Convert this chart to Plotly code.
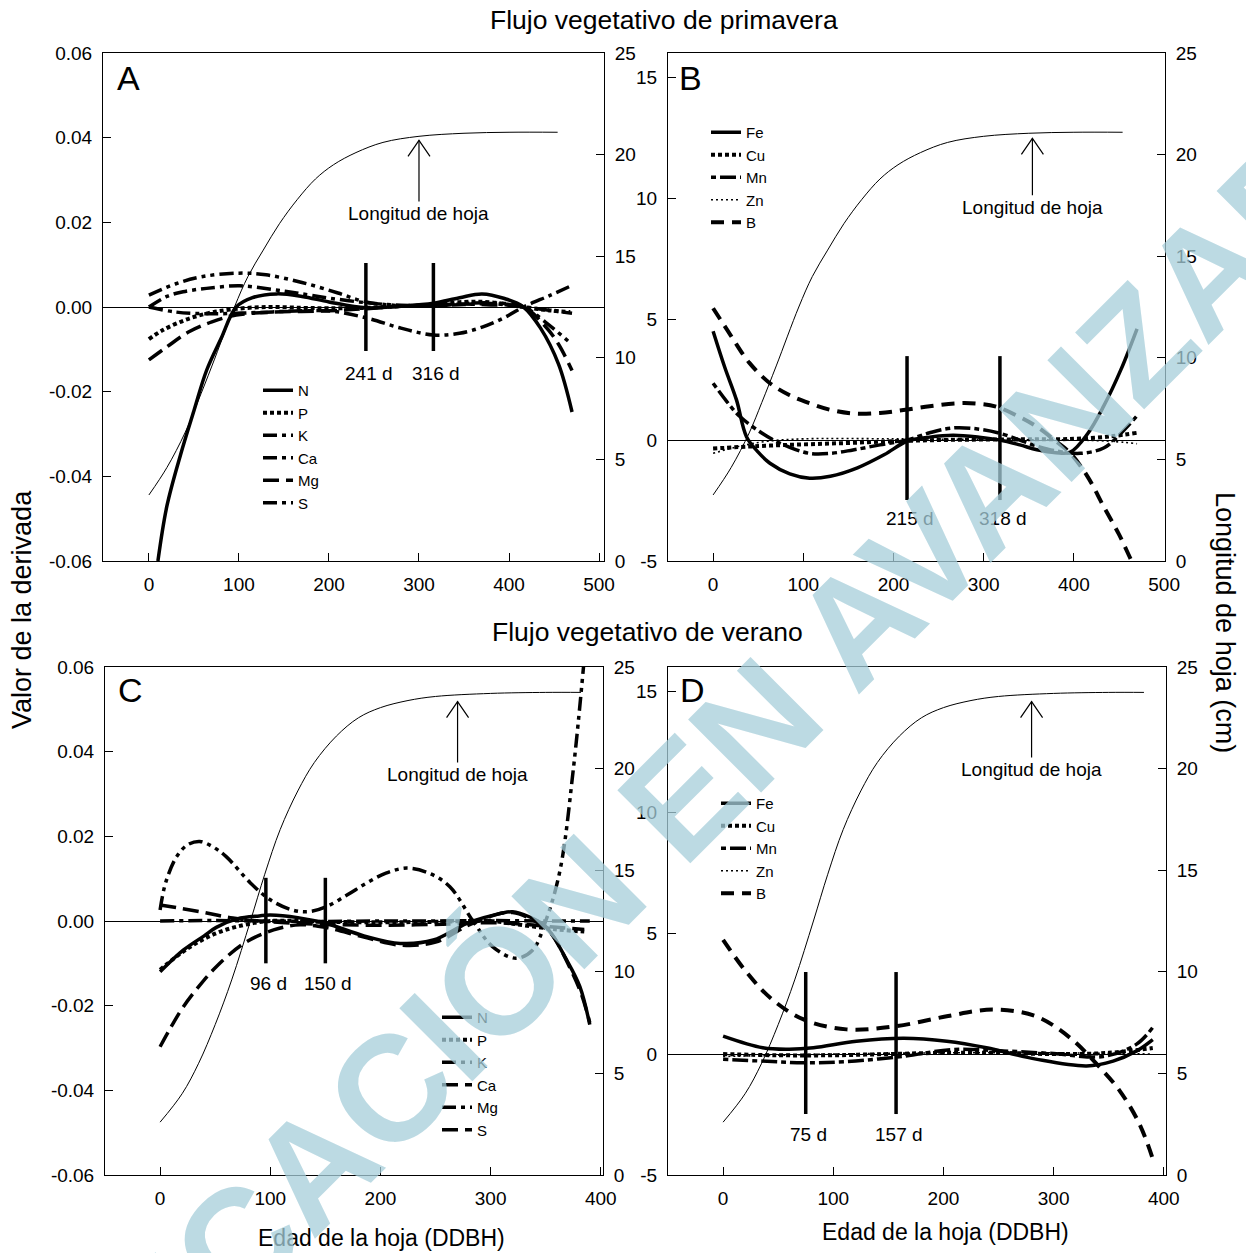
import plotly.graph_objects as go

FONT = "Liberation Sans, Arial, Helvetica, sans-serif"
W, H = 1246, 1253

# ---------------- data ----------------
# leaf length (cm)
spring_leaf_x = [0, 20, 40, 54, 70, 95, 110, 127, 145, 165, 185, 205, 230, 260, 300, 350, 400, 454]
spring_leaf_cm = [3.25, 4.6, 6.3, 7.8, 9.6, 12.5, 14.0, 15.3, 16.6, 17.8, 18.8, 19.5, 20.1, 20.6, 20.9, 21.05, 21.1, 21.1]
summer_leaf_x = [0, 20, 35, 50, 65, 82, 95, 109, 125, 140, 160, 180, 200, 225, 250, 300, 350, 382]
summer_leaf_cm = [2.6, 4.0, 5.5, 7.4, 9.6, 12.5, 14.8, 17.0, 18.9, 20.3, 21.6, 22.5, 23.0, 23.35, 23.55, 23.7, 23.75, 23.75]

# Panel A: spring flush, macronutrients (derivative values)
A_N_x = [10, 20, 35, 50, 64, 80, 97, 115, 142, 170, 200, 241, 280, 316, 345, 370, 395, 416, 435, 455, 470]
A_N_y = [-0.060, -0.047, -0.035, -0.0245, -0.015, -0.0075, 0.0, 0.0022, 0.0031, 0.0025, 0.0012, -0.0002, 0.0002, 0.0009, 0.0022, 0.0031, 0.0020, 0.0, -0.005, -0.0135, -0.0248]
A_P_x = [0, 15, 40, 65, 90, 130, 170, 200, 241, 280, 316, 350, 380, 416, 445, 468]
A_P_y = [-0.0076, -0.0055, -0.0031, -0.0015, -0.0006, 0.0, -0.0002, -0.0003, -0.0002, 0.0002, 0.0005, 0.0012, 0.0011, 0.0, -0.0008, -0.0012]
A_K_x = [0, 30, 70, 120, 170, 204, 242, 280, 316, 345, 371, 395, 416, 445, 471]
A_K_y = [0.0, -0.0012, -0.0016, -0.0013, -0.0009, -0.0010, -0.0026, -0.0050, -0.0066, -0.0062, -0.0047, -0.0025, 0.0, 0.0027, 0.0052]
A_Ca_x = [0, 30, 60, 100, 130, 170, 210, 241, 280, 316, 350, 380, 416, 440, 468]
A_Ca_y = [0.0028, 0.0055, 0.0072, 0.0080, 0.0076, 0.0058, 0.0033, 0.0012, 0.0003, 0.0002, 0.0008, 0.0010, 0.0, -0.0035, -0.0085]
A_Mg_x = [0, 20, 45, 70, 97, 140, 200, 241, 280, 316, 350, 380, 416, 440, 455, 470]
A_Mg_y = [-0.0125, -0.0094, -0.0058, -0.0035, -0.0019, -0.0012, -0.0009, -0.0004, 0.0002, 0.0005, 0.0007, 0.0005, 0.0, -0.0045, -0.0088, -0.0150]
A_S_x = [0, 20, 38, 64, 101, 138, 164, 200, 242, 280, 316, 350, 380, 416, 445, 470]
A_S_y = [0.0, 0.0025, 0.0036, 0.0044, 0.0050, 0.0041, 0.0033, 0.0021, 0.0010, 0.0004, 0.0003, 0.0006, 0.0008, 0.0, -0.0008, -0.0015]

# Panel B: spring flush, micronutrients
B_Fe_x = [0, 13, 26, 37, 50, 63, 85, 107, 130, 160, 190, 215, 240, 266, 295, 318, 340, 359, 380, 396, 415, 433, 452, 470]
B_Fe_y = [4.5, 3.0, 1.65, 0.14, -0.5, -0.96, -1.4, -1.58, -1.5, -1.15, -0.6, -0.05, 0.12, 0.2, 0.12, 0.0, -0.2, -0.4, -0.52, -0.5, 0.25, 1.4, 2.9, 4.6]
B_Cu_x = [0, 50, 100, 150, 200, 250, 300, 350, 400, 440, 470]
B_Cu_y = [-0.35, -0.25, -0.18, -0.12, -0.05, 0.0, 0.02, 0.03, 0.05, 0.15, 0.3]
B_Mn_x = [0, 15, 30, 63, 85, 107, 130, 155, 185, 215, 240, 266, 295, 318, 340, 359, 380, 407, 433, 450, 470]
B_Mn_y = [2.35, 1.6, 0.96, 0.08, -0.3, -0.55, -0.55, -0.41, -0.2, 0.0, 0.3, 0.5, 0.45, 0.28, 0.0, -0.25, -0.45, -0.55, -0.33, 0.2, 1.0]
B_Zn_x = [0, 30, 60, 100, 200, 300, 400, 440, 470]
B_Zn_y = [-0.55, -0.25, -0.05, 0.05, 0.05, 0.02, 0.0, -0.05, -0.15]
B_B_x = [0, 20, 40, 63, 85, 107, 130, 155, 185, 211, 240, 270, 295, 314, 340, 359, 380, 396, 415, 433, 450, 464, 475]
B_B_y = [5.45, 4.3, 3.2, 2.35, 1.85, 1.52, 1.25, 1.1, 1.12, 1.24, 1.4, 1.52, 1.5, 1.38, 0.95, 0.55, -0.05, -0.54, -1.5, -2.75, -3.9, -5.0, -5.8]

# Panel C: summer flush, macronutrients
C_N_x = [0, 21, 40, 51, 70, 90, 100, 125, 151, 185, 218, 248, 278, 300, 320, 335, 350, 369, 381, 390]
C_N_y = [-0.012, -0.0069, -0.0035, -0.0015, 0.0005, 0.0012, 0.0014, 0.0008, -0.0006, -0.0035, -0.0053, -0.0045, -0.0006, 0.0012, 0.0022, 0.001, -0.0013, -0.0092, -0.0155, -0.0245]
C_P_x = [0, 25, 50, 75, 100, 150, 200, 250, 300, 330, 360, 385]
C_P_y = [-0.0115, -0.0065, -0.003, -0.001, 0.0, -0.0002, -0.0003, -0.0002, 0.0, -0.001, -0.002, -0.0025]
C_K_x = [0, 5, 15, 25, 36, 48, 60, 82, 100, 120, 135, 151, 170, 187, 205, 224, 245, 263, 284, 302, 323, 338, 350, 363, 375, 385]
C_K_y = [0.0026, 0.009, 0.0152, 0.0180, 0.0188, 0.0175, 0.0152, 0.009, 0.005, 0.0026, 0.0022, 0.0034, 0.0062, 0.0089, 0.0113, 0.0125, 0.0112, 0.0081, 0.0, -0.0061, -0.0088, -0.0069, 0.0, 0.012, 0.0357, 0.062]
C_Ca_x = [0, 10, 21, 35, 51, 76, 103, 127, 150, 185, 218, 250, 280, 305, 320, 340, 355, 370, 382, 390]
C_Ca_y = [-0.0297, -0.025, -0.0203, -0.0155, -0.0108, -0.0053, -0.0021, -0.0009, -0.0015, -0.0038, -0.0057, -0.005, -0.001, 0.0015, 0.0020, 0.0, -0.003, -0.010, -0.017, -0.024]
C_Mg_x = [0, 50, 100, 150, 200, 250, 300, 350, 390]
C_Mg_y = [0.0, 0.0001, 0.0, -0.0001, 0.0, 0.0, 0.0001, 0.0, 0.0]
C_S_x = [0, 36, 66, 100, 150, 200, 250, 300, 330, 360, 385]
C_S_y = [0.0038, 0.0022, 0.0007, -0.0002, -0.0008, -0.0010, -0.0008, -0.0004, -0.0008, -0.0015, -0.0020]

# Panel D: summer flush, micronutrients
D_Fe_x = [0, 36, 60, 82, 121, 164, 203, 239, 284, 330, 354, 375, 390]
D_Fe_y = [0.74, 0.26, 0.2, 0.26, 0.53, 0.65, 0.53, 0.26, -0.21, -0.49, -0.29, 0.12, 0.6]
D_Cu_x = [0, 50, 100, 150, 200, 250, 300, 350, 390]
D_Cu_y = [0.0, -0.05, -0.05, 0.0, 0.05, 0.05, 0.0, 0.05, 0.25]
D_Mn_x = [0, 40, 73, 112, 164, 209, 254, 300, 345, 375, 390]
D_Mn_y = [-0.22, -0.3, -0.36, -0.31, -0.09, 0.19, 0.13, 0.02, -0.1, 0.4, 1.1]
D_Zn_x = [0, 50, 100, 200, 300, 390]
D_Zn_y = [-0.1, -0.05, 0.0, 0.05, 0.05, 0.0]
D_B_x = [0, 21, 43, 73, 112, 157, 203, 245, 284, 315, 339, 360, 378, 390]
D_B_y = [4.72, 3.4, 2.32, 1.43, 1.02, 1.15, 1.56, 1.84, 1.56, 0.67, -0.41, -1.52, -2.9, -4.33]

# break points (days)
A_breaks = [241, 316]
B_breaks = [215, 318]
C_breaks = [96, 150]
D_breaks = [75, 157]

# tick values / labels
deriv_ticks = [-0.06, -0.04, -0.02, 0.0, 0.02, 0.04, 0.06]
deriv_ticktext = ["-0.06", "-0.04", "-0.02", "0.00", "0.02", "0.04", "0.06"]
micro_ticks = [-5, 0, 5, 10, 15]
micro_ticktext = ["-5", "0", "5", "10", "15"]
leaf_ticks = [0, 5, 10, 15, 20, 25]
spring_xticks = [0, 100, 200, 300, 400, 500]
summer_xticks = [0, 100, 200, 300, 400]

# ---------------- styles ----------------
SOLID = dict(dash="solid", width=3.5)
SQDOT = dict(dash="4px,3px", width=4)
LDASH = dict(dash="16px,7px", width=3.5)
DDOT = dict(dash="14px,5px,4px,5px,4px,5px", width=3.5)
DDOT1 = dict(dash="14px,5px,4px,5px", width=3.5)
THINDOT = dict(dash="2px,3px", width=1.6)
BDASH = dict(dash="13px,8px", width=4)
MNDASH = dict(dash="5px,4px,16px,4px", width=3.5)


def px(x):
    return x / W


def py(y):
    return 1 - y / H


fig = go.Figure()


def add_series(x, y, name, style, xa, ya, legend):
    fig.add_trace(go.Scatter(
        x=x, y=y, name=name, mode="lines",
        line=dict(color="black", shape="spline", smoothing=1.0, **style),
        xaxis=xa, yaxis=ya, legend=legend, legendgroup=legend + name,
        hoverinfo="skip"))


def add_leaf(x, y, xa, ya):
    fig.add_trace(go.Scatter(
        x=x, y=y, mode="lines", showlegend=False,
        line=dict(color="black", width=1, shape="spline", smoothing=1.0),
        xaxis=xa, yaxis=ya, hoverinfo="skip"))


# Panel A
add_leaf(spring_leaf_x, spring_leaf_cm, "x", "y2")
add_series(A_N_x, A_N_y, "N", SOLID, "x", "y", "legend")
add_series(A_P_x, A_P_y, "P", SQDOT, "x", "y", "legend")
add_series(A_K_x, A_K_y, "K", DDOT1, "x", "y", "legend")
add_series(A_Ca_x, A_Ca_y, "Ca", DDOT, "x", "y", "legend")
add_series(A_Mg_x, A_Mg_y, "Mg", LDASH, "x", "y", "legend")
add_series(A_S_x, A_S_y, "S", DDOT1, "x", "y", "legend")

# Panel B
add_leaf(spring_leaf_x, spring_leaf_cm, "x2", "y4")
add_series(B_Fe_x, B_Fe_y, "Fe", SOLID, "x2", "y3", "legend2")
add_series(B_Cu_x, B_Cu_y, "Cu", SQDOT, "x2", "y3", "legend2")
add_series(B_Mn_x, B_Mn_y, "Mn", MNDASH, "x2", "y3", "legend2")
add_series(B_Zn_x, B_Zn_y, "Zn", THINDOT, "x2", "y3", "legend2")
add_series(B_B_x, B_B_y, "B", BDASH, "x2", "y3", "legend2")

# Panel C
add_leaf(summer_leaf_x, summer_leaf_cm, "x3", "y6")
add_series(C_N_x, C_N_y, "N", SOLID, "x3", "y5", "legend3")
add_series(C_P_x, C_P_y, "P", SQDOT, "x3", "y5", "legend3")
add_series(C_K_x, C_K_y, "K", DDOT, "x3", "y5", "legend3")
add_series(C_Ca_x, C_Ca_y, "Ca", LDASH, "x3", "y5", "legend3")
add_series(C_Mg_x, C_Mg_y, "Mg", DDOT1, "x3", "y5", "legend3")
add_series(C_S_x, C_S_y, "S", LDASH, "x3", "y5", "legend3")

# Panel D
add_leaf(summer_leaf_x, summer_leaf_cm, "x4", "y8")
add_series(D_Fe_x, D_Fe_y, "Fe", SOLID, "x4", "y7", "legend4")
add_series(D_Cu_x, D_Cu_y, "Cu", SQDOT, "x4", "y7", "legend4")
add_series(D_Mn_x, D_Mn_y, "Mn", MNDASH, "x4", "y7", "legend4")
add_series(D_Zn_x, D_Zn_y, "Zn", THINDOT, "x4", "y7", "legend4")
add_series(D_B_x, D_B_y, "B", BDASH, "x4", "y7", "legend4")

TICKFONT = dict(family=FONT, size=19, color="black")
COMMON = dict(ticks="inside", ticklen=8, tickwidth=1, tickcolor="black",
              showline=True, linecolor="black", linewidth=1, showgrid=False,
              tickfont=TICKFONT, ticklabelstandoff=6, automargin=False)


def xaxis(domain, rng, ticks, anchor):
    return dict(COMMON, domain=domain, range=rng, tickvals=ticks,
                ticktext=[str(t) for t in ticks], mirror=True, zeroline=False, anchor=anchor)


def yleft(domain, rng, ticks, text, anchor):
    return dict(COMMON, domain=domain, range=rng, tickvals=ticks, ticktext=text,
                zeroline=True, zerolinecolor="black", zerolinewidth=1, anchor=anchor)


def yright(over, anchor):
    return dict(COMMON, range=[0, 25], tickvals=leaf_ticks, ticktext=[str(t) for t in leaf_ticks],
                overlaying=over, side="right", anchor=anchor, zeroline=False)


top_dom = [py(561), py(53)]
bot_dom = [py(1175), py(667)]

LEG = dict(bgcolor="rgba(0,0,0,0)", font=dict(family=FONT, size=15, color="black"),
           xanchor="left", yanchor="top", tracegroupgap=0, itemwidth=30)

fig.update_layout(
    width=W, height=H, margin=dict(l=0, r=0, t=0, b=0, pad=0, autoexpand=False),
    paper_bgcolor="white", plot_bgcolor="white",
    font=dict(family=FONT, color="black"),
    xaxis=xaxis([px(103), px(604)], [-51, 505.5], spring_xticks, "y"),
    yaxis=yleft(top_dom, [-0.06, 0.06], deriv_ticks, deriv_ticktext, "x"),
    yaxis2=yright("y", "x"),
    xaxis2=xaxis([px(668), px(1165)], [-50, 501], spring_xticks, "y3"),
    yaxis3=yleft(top_dom, [-5, 16], micro_ticks, micro_ticktext, "x2"),
    yaxis4=yright("y3", "x2"),
    xaxis3=xaxis([px(105), px(603)], [-50, 402], summer_xticks, "y5"),
    yaxis5=yleft(bot_dom, [-0.06, 0.06], deriv_ticks, deriv_ticktext, "x3"),
    yaxis6=yright("y5", "x3"),
    xaxis4=xaxis([px(668), px(1166)], [-50, 402], summer_xticks, "y7"),
    yaxis7=yleft(bot_dom, [-5, 16], micro_ticks, micro_ticktext, "x4"),
    yaxis8=yright("y7", "x4"),
    legend=dict(LEG, x=px(258), y=py(374)),
    legend2=dict(LEG, x=px(706), y=py(116)),
    legend3=dict(LEG, x=px(437), y=py(1001)),
    legend4=dict(LEG, x=px(716), y=py(787)),
)

# break-point lines and labels
shapes = []
annotations = []
panel_breaks = [
    (A_breaks, "x", "y", -0.0104, 0.0104, -0.0158),
    (B_breaks, "x2", "y3", -2.48, 3.47, -3.26),
    (C_breaks, "x3", "y5", -0.0100, 0.0102, -0.0147),
    (D_breaks, "x4", "y7", -2.48, 3.39, -3.33),
]
for brks, xa, ya, lo, hi, lab in panel_breaks:
    for b in brks:
        shapes.append(dict(type="line", xref=xa, yref=ya, x0=b, x1=b, y0=lo, y1=hi,
                           line=dict(color="black", width=3.5)))
        annotations.append(dict(xref=xa, yref=ya, x=b, y=lab, text=f"{b} d", showarrow=False,
                                xshift=3, font=dict(family=FONT, size=19, color="black")))

# leaf-length arrows (open V head drawn in pixel units at the tip) and labels
arrow_specs = [
    ("x", "y2", 300, 20.7, 73),
    ("x2", "y4", 354, 20.8, 69),
    ("x3", "y6", 270, 23.3, 73),
    ("x4", "y8", 280, 23.3, 68),
]
for xa, ya, ax_, tip, off in arrow_specs:
    annotations.append(dict(xref=xa, yref=ya, x=ax_, y=tip, ax=0, ay=off,
                            text="Longitud de hoja", showarrow=True,
                            arrowhead=0, arrowwidth=1.2, arrowcolor="black",
                            standoff=0, startstandoff=0,
                            font=dict(family=FONT, size=19, color="black")))
    shapes.append(dict(type="path", xref=xa, yref=ya, xsizemode="pixel", ysizemode="pixel",
                       xanchor=ax_, yanchor=tip, path="M-11,-16 L0,0 L11,-16",
                       line=dict(color="black", width=1.2)))

# panel letters
for letter, (lx, ly) in zip(["A", "B", "C", "D"], [(128, 78), (690, 78), (130, 690), (692, 690)]):
    annotations.append(dict(xref="paper", yref="paper", x=px(lx), y=py(ly), text=letter,
                            showarrow=False, xanchor="center", yanchor="middle",
                            font=dict(family=FONT, size=34, color="black")))

# titles
TFONT = dict(family=FONT, size=26.5, color="black")
YFONT = dict(family=FONT, size=27, color="black")
XFONT = dict(family=FONT, size=23, color="black")
annotations += [
    dict(xref="paper", yref="paper", x=px(664), y=py(20), text="Flujo vegetativo de primavera",
         showarrow=False, xanchor="center", yanchor="middle", font=TFONT),
    dict(xref="paper", yref="paper", x=px(647), y=py(632), text="Flujo vegetativo de verano",
         showarrow=False, xanchor="center", yanchor="middle", font=TFONT),
    dict(xref="paper", yref="paper", x=px(22), y=py(610), text="Valor de la derivada",
         showarrow=False, xanchor="center", yanchor="middle", textangle=-90, font=YFONT),
    dict(xref="paper", yref="paper", x=px(1225), y=py(622), text="Longitud de hoja (cm)",
         showarrow=False, xanchor="center", yanchor="middle", textangle=90, font=YFONT),
    dict(xref="paper", yref="paper", x=px(381), y=py(1238), text="Edad de la hoja (DDBH)",
         showarrow=False, xanchor="center", yanchor="middle", font=XFONT),
    dict(xref="paper", yref="paper", x=px(945), y=py(1232), text="Edad de la hoja (DDBH)",
         showarrow=False, xanchor="center", yanchor="middle", font=XFONT),
]

# watermark
annotations.append(dict(xref="paper", yref="paper", x=px(640), y=py(840),
                        text="PUBLICACIÓN EN AVANZADA", showarrow=False,
                        xanchor="center", yanchor="middle", textangle=-45,
                        font=dict(family=FONT, size=150, color="rgba(165,205,218,0.75)", weight=700)))

fig.update_layout(shapes=shapes, annotations=annotations)

fig.write_html("out.html", post_script="document.body.style.margin='0';",
               config={"displayModeBar": False})
